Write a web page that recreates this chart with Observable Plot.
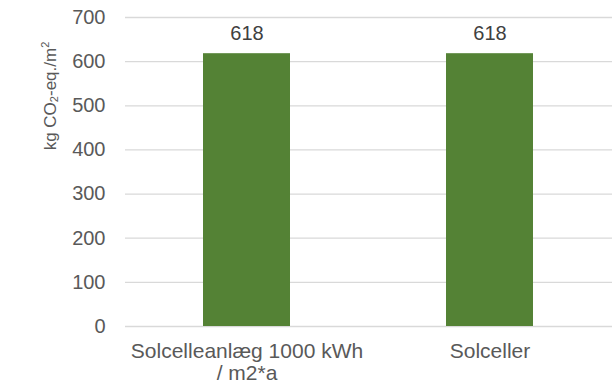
<!DOCTYPE html>
<html>
<head>
<meta charset="utf-8">
<script src="https://cdn.jsdelivr.net/npm/d3@7"></script>
<script src="https://cdn.jsdelivr.net/npm/@observablehq/plot@0.6"></script>
<style>
  html, body { margin: 0; padding: 0; background: #fff; }
  #wrap { position: relative; width: 612px; height: 387px; }
  #ytitle {
    position: absolute; left: 50px; top: 96px;
    transform: translate(-50%, -50%) rotate(-90deg);
    font-family: 'Liberation Sans', Arial, sans-serif; font-size: 17px; line-height: 1;
    color: #595959; white-space: nowrap;
  }
  #ytitle sub, #ytitle sup { font-size: 0.65em; line-height: 0; }
  #ytitle sub { vertical-align: -0.25em; }
  #ytitle sup { vertical-align: 0.6em; }
</style>
</head>
<body>
<div id="wrap"><div id="chart"></div><div id="ytitle"></div></div>
<script>
const categories = ["Solcelleanlæg 1000 kWh / m2*a", "Solceller"];
const values = [618, 618];
const yTicks = [0, 100, 200, 300, 400, 500, 600, 700];
const yTitleHTML = "kg CO<sub>2</sub>-eq./m<sup>2</sup>";

const data = categories.map((c, i) => ({category: c, value: values[i]}));

const chart = Plot.plot({
  width: 612,
  height: 387,
  marginLeft: 125,
  marginRight: 0,
  marginTop: 17,
  marginBottom: 61,
  style: {fontFamily: "'Liberation Sans', Arial, sans-serif", color: "#595959", background: "#fff"},
  x: {domain: categories, paddingInner: 0.64, paddingOuter: 0.32, axis: null},
  y: {domain: [0, 700], axis: null},
  marks: [
    Plot.gridY(yTicks, {stroke: "#d9d9d9", strokeOpacity: 1, strokeWidth: 1.3}),
    Plot.axisY({ticks: yTicks, tickSize: 0, tickPadding: 20, fontSize: 20, label: null, fill: "#595959"}),
    Plot.axisX({tickSize: 0, tickPadding: 16, fontSize: 21, lineHeight: 1.05, label: null, fill: "#595959",
      tickFormat: d => d.replace(" / ", "\n/ ")}),
    Plot.barY(data, {x: "category", y: "value", fill: "#548235"}),
    Plot.text(data, {x: "category", y: "value", text: d => String(d.value), dy: -14, lineAnchor: "bottom", fontSize: 20, fill: "#404040"})
  ]
});
document.getElementById("chart").appendChild(chart);
document.getElementById("ytitle").innerHTML = yTitleHTML;
</script>
</body>
</html>
